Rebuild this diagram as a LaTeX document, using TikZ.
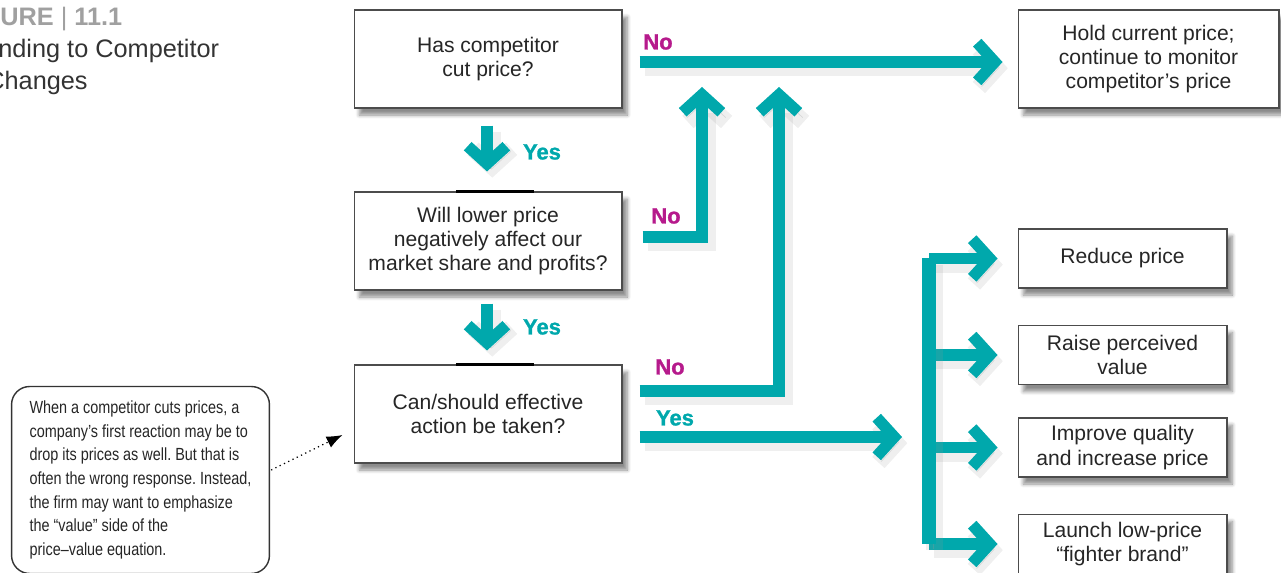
\documentclass[tikz,border=0pt]{standalone}
\usepackage{fontspec}
\setmainfont{Liberation Sans}
\newfontfamily\notefont[FakeStretch=0.82]{Liberation Sans}
\newfontfamily\labelfont[BoldFeatures={FakeBold=1.2}]{Liberation Sans}
\usepackage{xcolor}
\usepackage{tikz}
\usetikzlibrary{arrows.meta, calc, shadows.blur}
\definecolor{flowteal}{RGB}{0,168,172}
\definecolor{nomagenta}{RGB}{182,26,140}
\definecolor{figgray}{RGB}{160,160,160}
\frenchspacing

\begin{document}
\begin{tikzpicture}[x=0.02cm, y=-0.02cm]
    % Define styles
    \tikzstyle{question} = [rectangle, draw=black!70, fill=white, line width=0.6pt, text=black!85, minimum width=5.36cm, minimum height=1.96cm, inner sep=0pt, align=center, font=\fontsize{12}{13.8}\selectfont, blur shadow={shadow xshift=3pt, shadow yshift=-4pt, shadow opacity=45, shadow blur steps=6}]
    \tikzstyle{action} = [question, minimum width=4.18cm, minimum height=1.18cm]
    \tikzstyle{notebox} = [rectangle, rounded corners=0.36cm, draw=black!80, line width=0.8pt, fill=white, minimum width=5.14cm, minimum height=3.74cm, inner xsep=0.36cm, align=left, text=black!85, font=\notefont\fontsize{10}{13.5}\selectfont]
    \tikzstyle{nolabel} = [inner sep=0pt, text=nomagenta, font=\labelfont\fontsize{12.5}{14}\selectfont\bfseries]
    \tikzstyle{yeslabel} = [nolabel, text=flowteal]
    \tikzstyle{shade} = [preaction={draw=black!40, opacity=.16, line width=9.5pt, transform canvas={shift={(3pt,-3.5pt)}}}, preaction={draw=black!40, opacity=.28, transform canvas={shift={(2.5pt,-3pt)}}}]
    \tikzstyle{flow} = [shade, draw=flowteal, line width=6.5pt, -{Straight Barb[length=10pt, width=22pt]}]
    \tikzstyle{flowbar} = [shade, draw=flowteal, line width=7.5pt, line cap=square]

    \useasboundingbox (0,0) rectangle (1281,573);

    % Figure title
    \node[anchor=base west, inner sep=0pt, text=figgray, font=\fontsize{14.4}{18}\selectfont] (fignum) at (0,26) {\bfseries URE \mdseries| \bfseries 11.1};
    \node[anchor=base west, inner sep=0pt, text=black!80, font=\fontsize{14.4}{18}\selectfont] (title1) at (-2,58) {nding to Competitor};
    \node[anchor=base west, inner sep=0pt, text=black!80, font=\fontsize{14.4}{18}\selectfont] (title2) at (-14,90) {Changes};

    % Questions
    \node[question] (q1) at (488,59) {Has competitor\\cut price?};
    \node[question] (q2) at (488,241) {Will lower price\\negatively affect our\\market share and profits?};
    \node[question] (q3) at (488,414) {Can/should effective\\action be taken?};
    \draw[black, line width=1.4pt] ($(q2.north)+(-32,0)$) -- ($(q2.north)+(46,0)$);
    \draw[black, line width=1.4pt] ($(q3.north)+(-32,0)$) -- ($(q3.north)+(46,0)$);

    % Outcomes
    \node[question, minimum width=5.22cm] (hold) at (1148.5,59) {Hold current price;\\continue to monitor\\competitor’s price};
    \node[action] (r1) at (1122.5,258.5) {Reduce price};
    \node[action] (r2) at (1122.5,355) {Raise perceived\\value};
    \node[action] (r3) at (1122.5,447.5) {Improve quality\\and increase price};
    \node[action] (r4) at (1122.5,544) {Launch low-price\\“fighter brand”};

    % Note
    \node[notebox] (note) at (140.5,480) {When a competitor cuts prices, a\\company’s first reaction may be to\\drop its prices as well. But that is\\often the wrong response. Instead,\\the firm may want to emphasize\\the “value” side of the\\price–value equation.};
    \draw[dotted, line width=0.7pt, -{Latex[length=9pt, width=7pt]}] ($(note.east)+(1,-10)$) -- ($(q3.west)+(-11,21)$);

    % Labels
    \node[nolabel] (no1) at (658,42) {No};
    \node[nolabel] (no2) at (666,216) {No};
    \node[nolabel] (no3) at (670,367) {No};
    \node[yeslabel] (yes1) at (542,152) {Yes};
    \node[yeslabel] (yes2) at (542,327) {Yes};
    \node[yeslabel] (yes3) at (675,418) {Yes};

    % Arrows
    \coordinate (up1) at (702,87);
    \coordinate (up2) at (779,87);
    \coordinate (split) at (902,437);
    \coordinate (bar) at (929,0);
    \draw[flow] ($(q1.south)+(-1,17)$) -- ($(q2.north)+(-1,-20)$);
    \draw[flow] ($(q2.south)+(-1,13)$) -- ($(q3.north)+(-1,-14)$);
    \draw[flow] ($(q1.east)+(17,3)$) -- ($(hold.west)+(-15,3)$);
    \draw[flow] ($(q2.east)+(20,-4)$) -| (up1);
    \draw[flow] ($(q3.east)+(17,-23)$) -| (up2);
    \draw[flow] ($(q3.east)+(17,23)$) -- (split);
    \foreach \r in {r1,r2,r3,r4}
        \draw[flow] (bar |- \r.west) -- ($(\r.west)+(-20,0)$);
    \draw[flowbar] (bar |- r1.west) -- (bar |- r4.west);

\end{tikzpicture}
\end{document}
